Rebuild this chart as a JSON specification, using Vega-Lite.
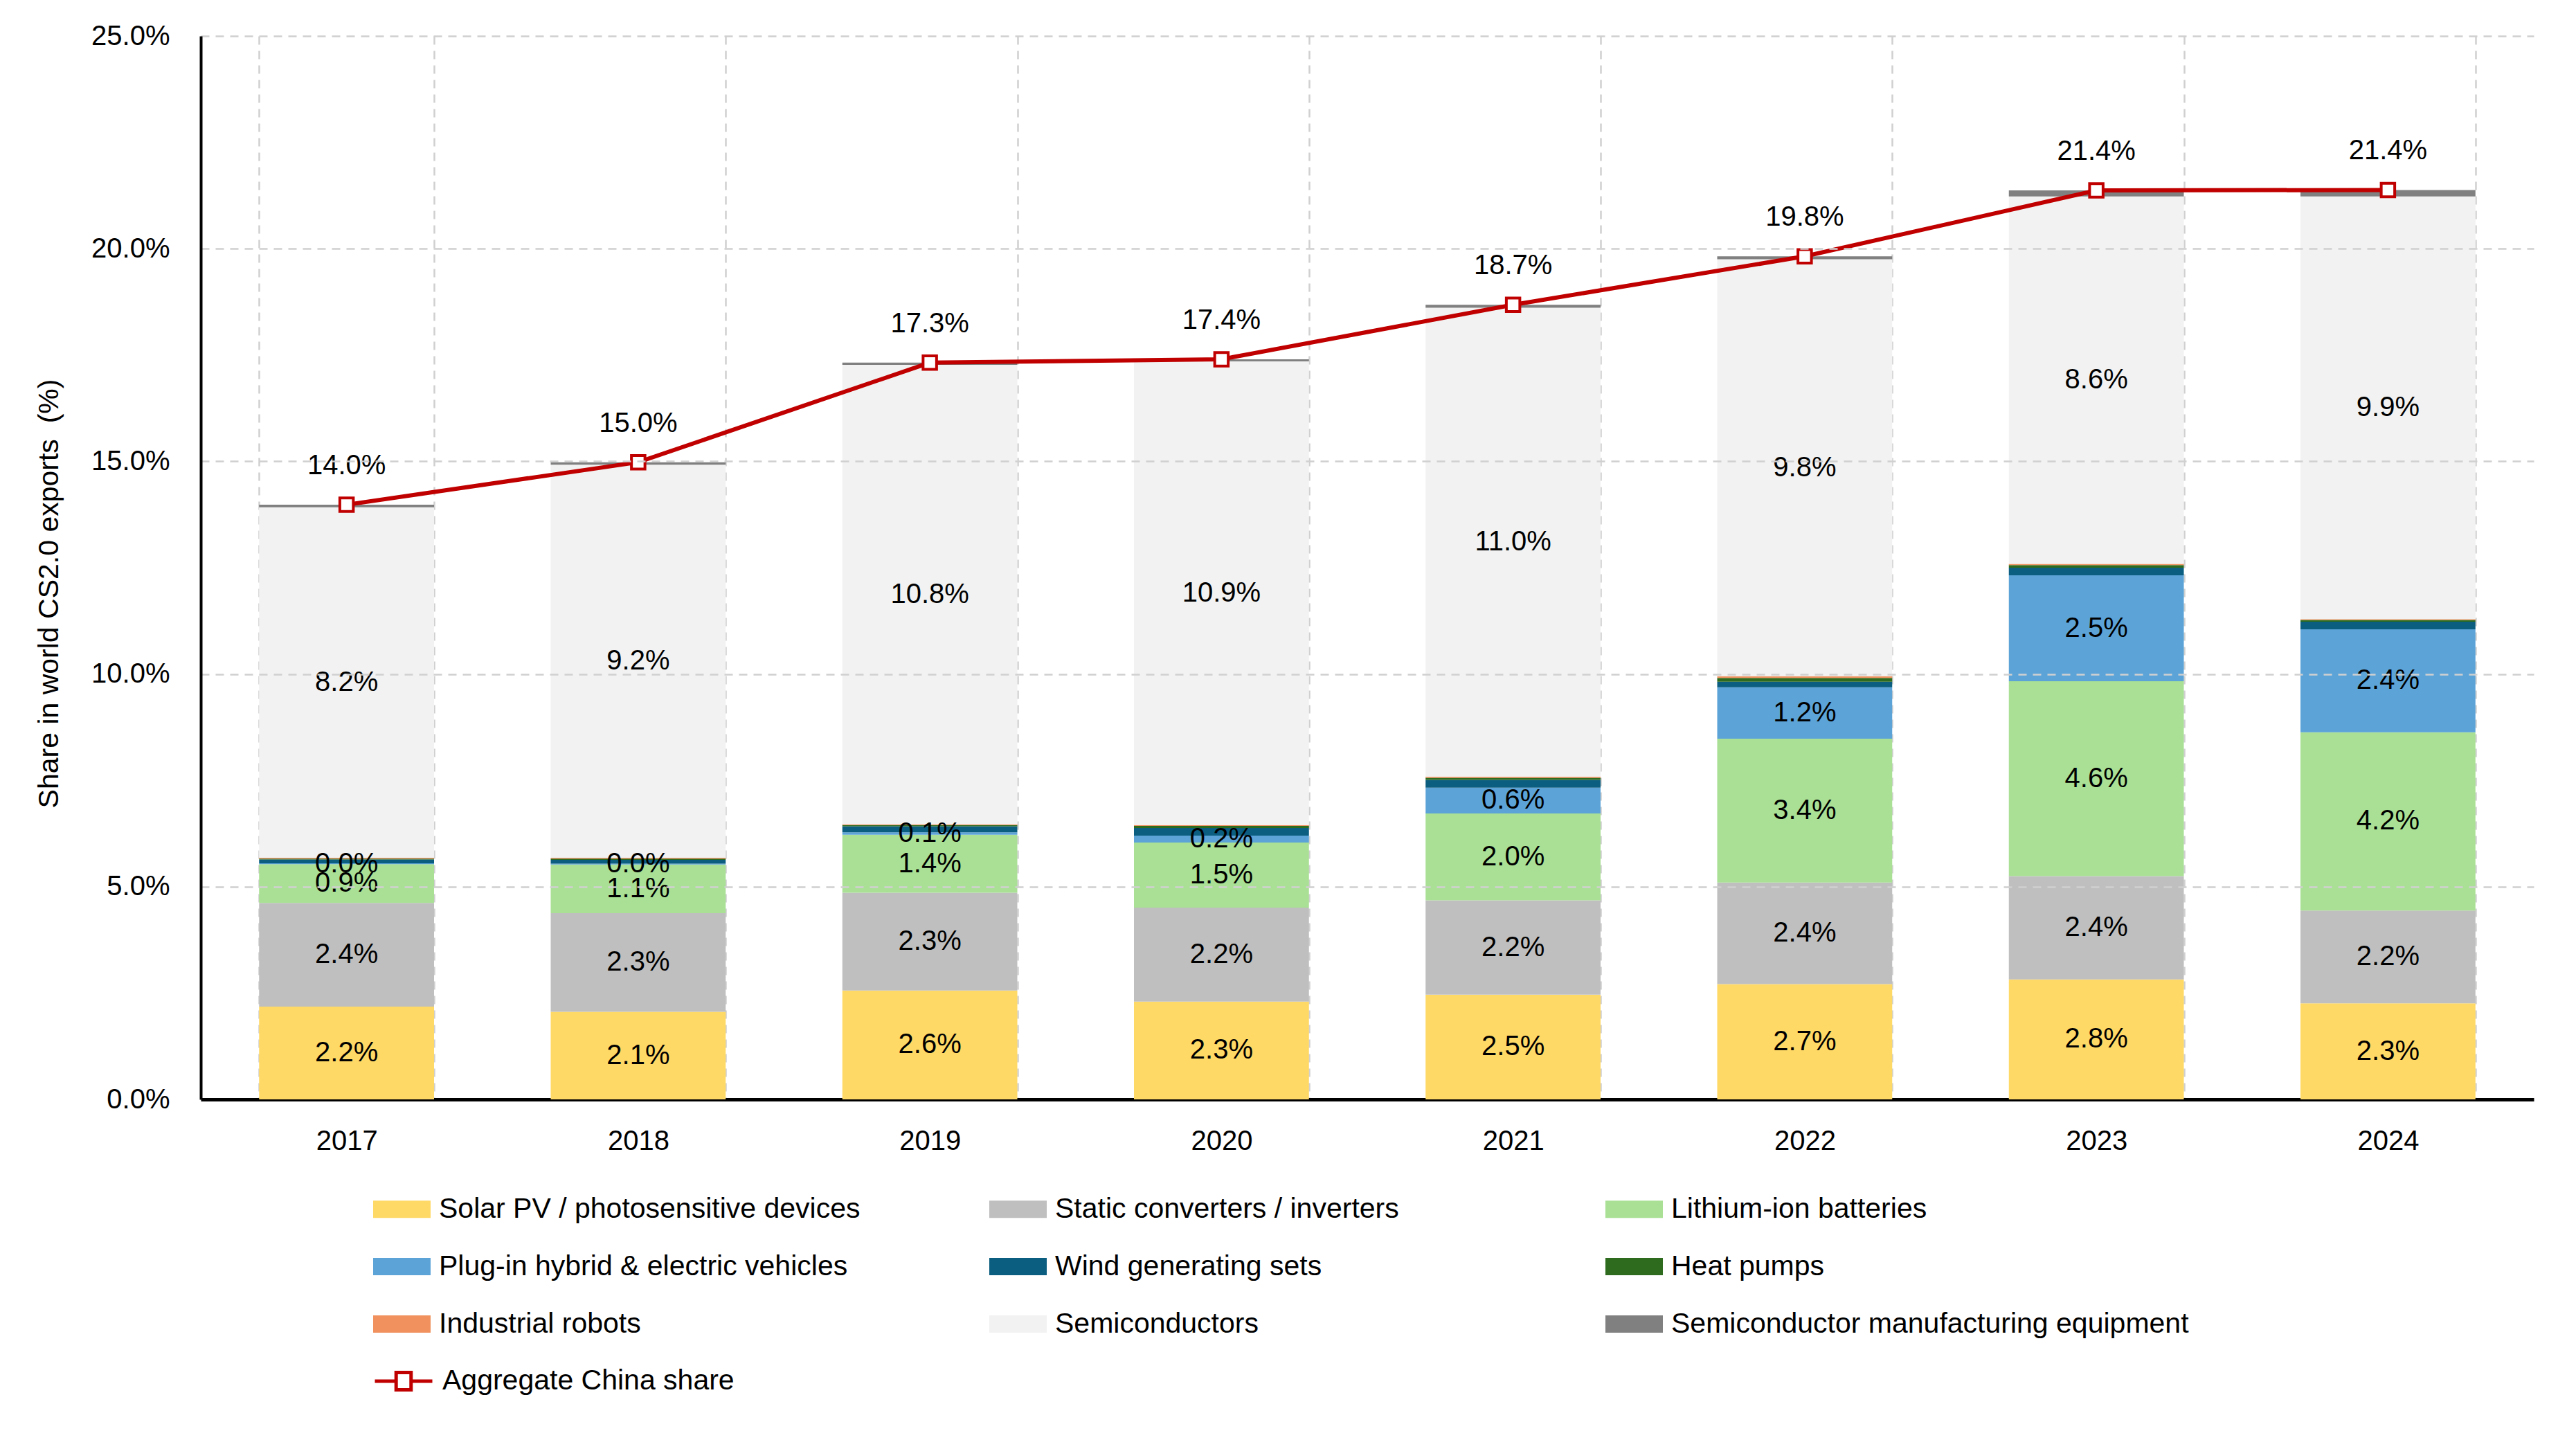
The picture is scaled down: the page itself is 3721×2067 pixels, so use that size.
{
  "$schema": "https://vega.github.io/schema/vega-lite/v6.json",
  "width": 3370,
  "height": 1536,
  "autosize": "none",
  "padding": {"left": 290, "top": 52, "right": 61, "bottom": 479},
  "background": "white",
  "config": {
    "view": {"stroke": null},
    "font": "Liberation Sans, Arial, sans-serif"
  },
  "datasets": {
    "segments": [
      {"year": "2017", "series": "Solar PV / photosensitive devices", "share": 0.0218},
      {"year": "2017", "series": "Static converters / inverters", "share": 0.0244},
      {"year": "2017", "series": "Lithium-ion batteries", "share": 0.0091},
      {"year": "2017", "series": "Plug-in hybrid & electric vehicles", "share": 0.0002},
      {"year": "2017", "series": "Wind generating sets", "share": 0.0009},
      {"year": "2017", "series": "Heat pumps", "share": 0.0002},
      {"year": "2017", "series": "Industrial robots", "share": 0.0002},
      {"year": "2017", "series": "Semiconductors", "share": 0.0824},
      {"year": "2017", "series": "Semiconductor manufacturing equipment", "share": 0.0006},

      {"year": "2018", "series": "Solar PV / photosensitive devices", "share": 0.0206},
      {"year": "2018", "series": "Static converters / inverters", "share": 0.0232},
      {"year": "2018", "series": "Lithium-ion batteries", "share": 0.0114},
      {"year": "2018", "series": "Plug-in hybrid & electric vehicles", "share": 0.0002},
      {"year": "2018", "series": "Wind generating sets", "share": 0.0009},
      {"year": "2018", "series": "Heat pumps", "share": 0.0003},
      {"year": "2018", "series": "Industrial robots", "share": 0.0002},
      {"year": "2018", "series": "Semiconductors", "share": 0.0924},
      {"year": "2018", "series": "Semiconductor manufacturing equipment", "share": 0.0006},

      {"year": "2019", "series": "Solar PV / photosensitive devices", "share": 0.0256},
      {"year": "2019", "series": "Static converters / inverters", "share": 0.0230},
      {"year": "2019", "series": "Lithium-ion batteries", "share": 0.0136},
      {"year": "2019", "series": "Plug-in hybrid & electric vehicles", "share": 0.0006},
      {"year": "2019", "series": "Wind generating sets", "share": 0.0014},
      {"year": "2019", "series": "Heat pumps", "share": 0.0003},
      {"year": "2019", "series": "Industrial robots", "share": 0.0002},
      {"year": "2019", "series": "Semiconductors", "share": 0.1080},
      {"year": "2019", "series": "Semiconductor manufacturing equipment", "share": 0.0005},

      {"year": "2020", "series": "Solar PV / photosensitive devices", "share": 0.0230},
      {"year": "2020", "series": "Static converters / inverters", "share": 0.0221},
      {"year": "2020", "series": "Lithium-ion batteries", "share": 0.0153},
      {"year": "2020", "series": "Plug-in hybrid & electric vehicles", "share": 0.0016},
      {"year": "2020", "series": "Wind generating sets", "share": 0.0018},
      {"year": "2020", "series": "Heat pumps", "share": 0.0005},
      {"year": "2020", "series": "Industrial robots", "share": 0.0002},
      {"year": "2020", "series": "Semiconductors", "share": 0.1090},
      {"year": "2020", "series": "Semiconductor manufacturing equipment", "share": 0.0005},

      {"year": "2021", "series": "Solar PV / photosensitive devices", "share": 0.0246},
      {"year": "2021", "series": "Static converters / inverters", "share": 0.0222},
      {"year": "2021", "series": "Lithium-ion batteries", "share": 0.0204},
      {"year": "2021", "series": "Plug-in hybrid & electric vehicles", "share": 0.0061},
      {"year": "2021", "series": "Wind generating sets", "share": 0.0018},
      {"year": "2021", "series": "Heat pumps", "share": 0.0005},
      {"year": "2021", "series": "Industrial robots", "share": 0.0003},
      {"year": "2021", "series": "Semiconductors", "share": 0.1102},
      {"year": "2021", "series": "Semiconductor manufacturing equipment", "share": 0.0007},

      {"year": "2022", "series": "Solar PV / photosensitive devices", "share": 0.0271},
      {"year": "2022", "series": "Static converters / inverters", "share": 0.0239},
      {"year": "2022", "series": "Lithium-ion batteries", "share": 0.0338},
      {"year": "2022", "series": "Plug-in hybrid & electric vehicles", "share": 0.0121},
      {"year": "2022", "series": "Wind generating sets", "share": 0.0013},
      {"year": "2022", "series": "Heat pumps", "share": 0.0009},
      {"year": "2022", "series": "Industrial robots", "share": 0.0004},
      {"year": "2022", "series": "Semiconductors", "share": 0.0980},
      {"year": "2022", "series": "Semiconductor manufacturing equipment", "share": 0.0007},

      {"year": "2023", "series": "Solar PV / photosensitive devices", "share": 0.0282},
      {"year": "2023", "series": "Static converters / inverters", "share": 0.0243},
      {"year": "2023", "series": "Lithium-ion batteries", "share": 0.0458},
      {"year": "2023", "series": "Plug-in hybrid & electric vehicles", "share": 0.0249},
      {"year": "2023", "series": "Wind generating sets", "share": 0.0018},
      {"year": "2023", "series": "Heat pumps", "share": 0.0006},
      {"year": "2023", "series": "Industrial robots", "share": 0.0003},
      {"year": "2023", "series": "Semiconductors", "share": 0.0864},
      {"year": "2023", "series": "Semiconductor manufacturing equipment", "share": 0.0014},

      {"year": "2024", "series": "Solar PV / photosensitive devices", "share": 0.0226},
      {"year": "2024", "series": "Static converters / inverters", "share": 0.0218},
      {"year": "2024", "series": "Lithium-ion batteries", "share": 0.0419},
      {"year": "2024", "series": "Plug-in hybrid & electric vehicles", "share": 0.0242},
      {"year": "2024", "series": "Wind generating sets", "share": 0.0018},
      {"year": "2024", "series": "Heat pumps", "share": 0.0004},
      {"year": "2024", "series": "Industrial robots", "share": 0.0002},
      {"year": "2024", "series": "Semiconductors", "share": 0.0994},
      {"year": "2024", "series": "Semiconductor manufacturing equipment", "share": 0.0015}
    ],
    "totals": [
      {"year": "2017", "series": "Aggregate China share", "total": 0.1398},
      {"year": "2018", "series": "Aggregate China share", "total": 0.1498},
      {"year": "2019", "series": "Aggregate China share", "total": 0.1732},
      {"year": "2020", "series": "Aggregate China share", "total": 0.1740},
      {"year": "2021", "series": "Aggregate China share", "total": 0.1868},
      {"year": "2022", "series": "Aggregate China share", "total": 0.1982},
      {"year": "2023", "series": "Aggregate China share", "total": 0.2137},
      {"year": "2024", "series": "Aggregate China share", "total": 0.2138}
    ]
  },
  "layer": [
    {
      "data": {"name": "segments"},
      "transform": [
        {"stack": "share", "groupby": ["year"], "as": ["v0", "v1"]}
      ],
      "mark": {"type": "bar"},
      "encoding": {
        "x": {
          "field": "year",
          "type": "ordinal",
          "scale": {"paddingInner": 0.4, "paddingOuter": 0.2},
          "axis": {
            "title": null,
            "labelAngle": 0,
            "labelFontSize": 40,
            "labelPadding": 40,
            "labelColor": "black",
            "ticks": false,
            "domainColor": "black",
            "domainWidth": 5,
            "grid": true,
            "tickBand": "extent",
            "gridDash": [12, 9],
            "gridColor": "#D0D0D0",
            "gridWidth": 2.5
          }
        },
        "y": {
          "field": "v0",
          "type": "quantitative",
          "scale": {"domain": [0, 0.25], "nice": false},
          "axis": {
            "title": "Share in world CS2.0 exports \u00a0(%)",
            "format": ".1%",
            "values": [0, 0.05, 0.1, 0.15, 0.2, 0.25],
            "labelFontSize": 40,
            "labelPadding": 45,
            "labelColor": "black",
            "ticks": false,
            "domainColor": "black",
            "domainWidth": 4,
            "gridDash": [12, 9],
            "gridColor": "#D0D0D0",
            "gridWidth": 2.5,
            "gridOpacity": {"condition": {"test": "datum.value === 0", "value": 0}, "value": 1},
            "titleFont": "Liberation Sans",
            "titleFontSize": 41,
            "titleFontWeight": "normal",
            "titleColor": "black",
            "titleX": -219,
            "titleY": 805,
            "titleAngle": -90,
            "titleAlign": "center",
            "titleBaseline": "middle",
            "zindex": 1
          }
        },
        "y2": {"field": "v1"},
        "color": {
          "field": "series",
          "type": "nominal",
          "scale": {
            "domain": [
              "Solar PV / photosensitive devices",
              "Static converters / inverters",
              "Lithium-ion batteries",
              "Plug-in hybrid & electric vehicles",
              "Wind generating sets",
              "Heat pumps",
              "Industrial robots",
              "Semiconductors",
              "Semiconductor manufacturing equipment"
            ],
            "range": ["#FFD966", "#BFBFBF", "#A9E095", "#5CA4D8", "#0B5E80", "#2E6B1E", "#F0915E", "#F2F2F2", "#808080"]
          },
          "legend": {
            "title": null,
            "orient": "none",
            "legendX": 249,
            "legendY": 1653,
            "direction": "horizontal",
            "columns": 3,
            "gridAlign": "all",
            "columnPadding": 47,
            "rowPadding": 21,
            "symbolType": "M-1,-0.3H1V0.3H-1Z",
            "symbolSize": 6889,
            "symbolStrokeWidth": 0,
            "symbolOpacity": 1,
            "labelFontSize": 41,
            "labelOffset": 12,
            "labelLimit": 1500,
            "labelColor": "black",
            "padding": 0
          }
        }
      }
    },
    {
      "data": {"name": "segments"},
      "transform": [
        {"stack": "share", "groupby": ["year"], "as": ["v0", "v1"]},
        {"filter": {"field": "series", "oneOf": [
          "Solar PV / photosensitive devices",
          "Static converters / inverters",
          "Lithium-ion batteries",
          "Plug-in hybrid & electric vehicles",
          "Semiconductors"
        ]}},
        {"fold": ["v0", "v1"], "as": ["edge", "pos"]}
      ],
      "mark": {"type": "text", "fontSize": 40, "color": "black"},
      "encoding": {
        "x": {"field": "year", "type": "ordinal", "bandPosition": 0.5},
        "y": {"field": "pos", "type": "quantitative", "aggregate": "mean", "scale": {"domain": [0, 0.25], "nice": false}},
        "detail": {"field": "series"},
        "text": {"field": "share", "type": "quantitative", "aggregate": "max", "format": ".1%"}
      }
    },
    {
      "data": {"name": "totals"},
      "mark": {"type": "line", "strokeWidth": 6},
      "encoding": {
        "x": {"field": "year", "type": "ordinal", "bandPosition": 0.5},
        "y": {"field": "total", "type": "quantitative", "scale": {"domain": [0, 0.25], "nice": false}},
        "stroke": {
          "field": "series",
          "type": "nominal",
          "scale": {"domain": ["Aggregate China share"], "range": ["#C00000"]},
          "legend": {
            "title": null,
            "orient": "none",
            "legendX": 249,
            "legendY": 1899,
            "symbolType": "M-1,0H-0.26M0.26,0H1M-0.26,-0.3H0.26V0.3H-0.26Z",
            "symbolSize": 6889,
            "symbolStrokeWidth": 5,
            "symbolFillColor": "white",
            "labelFontSize": 41,
            "labelOffset": 12,
            "labelLimit": 1500,
            "labelColor": "black",
            "padding": 0
          }
        }
      }
    },
    {
      "data": {"name": "totals"},
      "mark": {"type": "point", "shape": "square", "filled": true, "fill": "white", "stroke": "#C00000", "strokeWidth": 4, "size": 380, "opacity": 1},
      "encoding": {
        "x": {"field": "year", "type": "ordinal", "bandPosition": 0.5},
        "y": {"field": "total", "type": "quantitative", "scale": {"domain": [0, 0.25], "nice": false}}
      }
    },
    {
      "data": {"name": "totals"},
      "mark": {"type": "text", "fontSize": 40, "color": "black", "dy": -56},
      "encoding": {
        "x": {"field": "year", "type": "ordinal", "bandPosition": 0.5},
        "y": {"field": "total", "type": "quantitative", "scale": {"domain": [0, 0.25], "nice": false}},
        "text": {"field": "total", "type": "quantitative", "format": ".1%"}
      }
    }
  ]
}
